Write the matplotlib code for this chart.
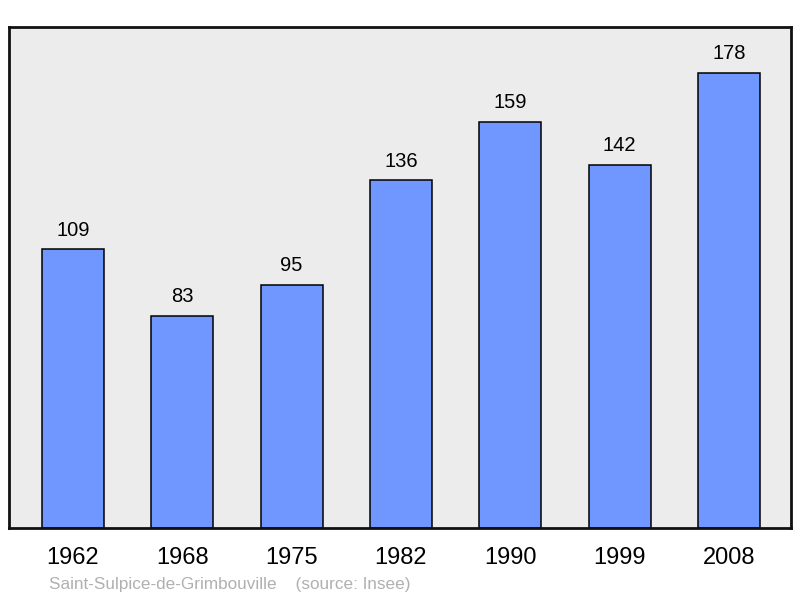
import matplotlib.pyplot as plt

years = ["1962", "1968", "1975", "1982", "1990", "1999", "2008"]
population = [109, 83, 95, 136, 159, 142, 178]
commune = "Saint-Sulpice-de-Grimbouville"
source = "(source: Insee)"

plt.rcParams["font.family"] = ["Liberation Sans", "DejaVu Sans"]

fig = plt.figure(figsize=(8, 5.98), dpi=100)
ax = fig.add_axes([9 / 800, 70 / 598, 782 / 800, 501 / 598])
ax.set_facecolor("#ececec")

x = range(len(years))
ax.bar(x, population, width=0.567, color="#7096ff", edgecolor="black", linewidth=1.1, zorder=2)
for xi, v in zip(x, population):
    ax.annotate(str(v), (xi, v), xytext=(0, 7), textcoords="offset points",
                ha="center", va="bottom", fontsize=14.5)

ax.set_xlim(-0.585, len(years) - 1 + 0.567)
ax.set_ylim(0, 196)
ax.set_yticks([])
ax.set_xticks(list(x))
ax.set_xticklabels(years, fontsize=17)
ax.tick_params(axis="x", length=0, pad=13.5)
for s in ax.spines.values():
    s.set_linewidth(2)
    s.set_color("#111111")

fig.text(49 / 800, 1 - 584 / 598, commune + "    " + source, fontsize=12.3,
         color="#b0b0b0", va="center", ha="left")

fig.savefig("out.png", dpi=100)
